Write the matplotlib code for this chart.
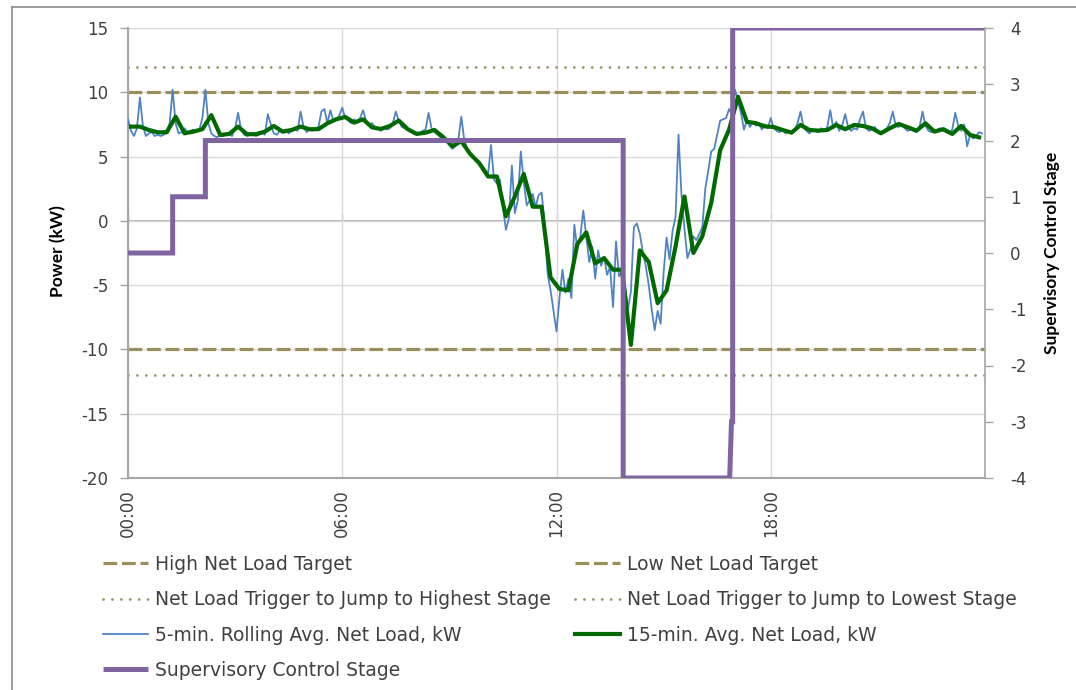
import numpy as np
import matplotlib
matplotlib.use("Agg")
import matplotlib.pyplot as plt
from matplotlib.lines import Line2D

# ---------------- data ----------------
# 5-min rolling average net load (kW), one value every 5 minutes from 00:00
blue_5min = [
    7.9, 7.0, 6.6, 7.2, 9.6, 7.4, 6.6, 6.8, 6.9, 6.6, 6.7, 6.6,
    6.7, 6.9, 7.6, 10.2, 7.6, 6.8, 6.9, 7.2, 6.9, 7.0, 7.1, 7.0,
    7.1, 8.0, 10.2, 7.6, 6.8, 6.6, 6.5, 6.7, 6.6, 6.8, 6.7, 6.6,
    7.2, 8.4, 7.1, 6.7, 6.6, 6.7, 6.8, 6.6, 6.7, 6.9, 6.7, 8.3,
    7.5, 6.8, 6.7, 7.0, 6.9, 7.1, 6.8, 7.0, 7.2, 7.0, 8.5, 7.3,
    6.9, 7.1, 7.0, 7.2, 7.3, 8.5, 8.7, 7.6, 8.6, 7.8, 7.9, 8.2,
    8.8, 8.0, 7.8, 7.6, 7.9, 7.7, 8.0, 8.6, 7.8, 7.5, 7.6, 7.3,
    7.2, 7.0, 7.3, 7.1, 7.2, 7.6, 8.5, 7.8, 7.3, 7.2, 7.1, 7.0,
    6.8, 6.7, 6.8, 7.0, 7.1, 8.4, 7.2, 6.9, 6.7, 6.5, 6.2, 6.3,
    5.9, 5.6, 5.8, 6.3, 8.1, 6.3, 5.6, 5.3, 5.0, 4.8, 4.6, 4.3,
    4.0, 3.6, 5.9, 3.2, 2.9, 3.2, 1.0, -0.7, 0.2, 4.3, 0.6, 1.6,
    5.4, 3.0, 1.2, 1.6, 2.1, 1.1, 2.0, 2.2, -0.2, -4.1, -5.4, -7.0,
    -8.6, -6.0, -3.8, -5.6, -4.5, -6.0, -0.3, -2.2, -1.2, 0.8, -1.2, -3.2,
    -2.0, -4.5, -2.3, -3.5, -2.8, -4.2, -3.6, -6.7, -1.6, -4.3, -4.0, -5.0,
    -6.9, -5.5, -0.5, -0.2, -1.0, -2.4, -3.5, -5.0, -6.9, -8.5, -7.0, -8.0,
    -4.0, -1.3, -3.0, -0.8, 0.3, 6.7, 2.0, -0.6, -2.9, -2.2, -1.2, -1.5,
    -1.0, -0.5, 2.5, 3.9, 5.4, 5.6, 6.7, 7.8, 7.9, 8.0, 8.7, 8.3,
    10.2, 9.3, 8.4, 7.1, 7.8, 7.3, 7.7, 7.4, 7.6, 7.1, 7.5, 7.2,
    8.0, 7.2, 7.0, 6.9, 7.1, 6.8, 7.0, 6.9, 7.0, 7.6, 8.5, 7.3,
    7.0, 6.8, 7.1, 7.0, 6.9, 7.2, 7.0, 7.3, 8.6, 7.2, 7.7, 7.0,
    7.4, 8.3, 7.3, 7.0, 7.2, 7.1, 7.9, 8.5, 7.2, 7.0, 7.1, 7.3,
    6.9, 6.8, 7.0, 7.2, 7.6, 8.5, 7.4, 7.3, 7.5, 7.2, 7.0, 7.1,
    7.0, 6.9, 7.3, 8.5, 7.4, 7.0, 6.9, 7.0, 7.1, 7.2, 7.0, 6.9,
    6.8, 7.1, 8.4, 7.4, 7.0, 7.5, 5.8, 6.7, 6.4, 6.6, 6.9, 6.8,
]
blue_minutes = list(range(0, 1440, 5))

# 15-min average net load (kW), one value per 15-minute interval
green_15min = [
    7.33, 7.33, 7.07, 6.89, 6.89, 8.10, 6.81, 6.94, 7.13, 8.22, 6.68, 6.76,
    7.33, 6.74, 6.74, 6.94, 7.38, 6.94, 7.07, 7.33, 7.13, 7.13, 7.59, 7.90,
    8.08, 7.64, 7.90, 7.27, 7.15, 7.38, 7.80, 7.13, 6.76, 6.86, 7.07, 6.50,
    5.80, 6.20, 5.20, 4.50, 3.45, 3.45, 0.35, 1.90, 3.65, 1.10, 1.10, -4.40,
    -5.30, -5.40, -1.80, -0.90, -3.30, -2.90, -3.80, -3.80, -9.65, -2.30, -3.20, -6.40,
    -5.40, -2.00, 1.90, -2.50, -1.20, 1.40, 5.50, 7.10, 9.66, 7.70, 7.60, 7.35,
    7.30, 7.07, 6.86, 7.46, 7.07, 7.02, 7.07, 7.46, 7.13, 7.46, 7.38, 7.20,
    6.81, 7.20, 7.54, 7.28, 7.02, 7.59, 6.94, 7.13, 6.76, 7.38, 6.68, 6.50,
]
green_minutes = list(range(5, 1440, 15))

# Supervisory control stage (right axis)
stage_minutes = [0, 75, 75, 130, 130, 832, 832, 1011, 1014, 1016, 1016, 1440]
stage_values = [0, 0, 1, 1, 2, 2, -4, -4, -3, -3, 4, 4]

high_target = 10
low_target = -10
high_trigger = 12
low_trigger = -12

xtick_minutes = [0, 360, 720, 1080]
xtick_labels = ["00:00", "06:00", "12:00", "18:00"]

labels = {
    "high": "High Net Load Target",
    "low": "Low Net Load Target",
    "trig_hi": "Net Load Trigger to Jump to Highest Stage",
    "trig_lo": "Net Load Trigger to Jump to Lowest Stage",
    "blue": "5-min. Rolling Avg. Net Load, kW",
    "green": "15-min. Avg. Net Load, kW",
    "stage": "Supervisory Control Stage",
}

# ---------------- style ----------------
W, H = 1076, 690
OLIVE = "#9A8F5B"
BLUE = "#5083C4"
GREEN = "#006A00"
PURPLE = "#8064A2"
GRID = "#D9D9D9"
AXC = "#A6A6A6"
TXT = "#404040"

plt.rcParams["font.family"] = ["DejaVu Sans"]
plt.rcParams["axes.unicode_minus"] = False

fig = plt.figure(figsize=(W / 100, H / 100), dpi=100)
fig.patch.set_facecolor("white")

L, R, T, B = 128, 985, 28, 478
ax = fig.add_axes([L / W, 1 - B / H, (R - L) / W, (B - T) / H])
ax2 = ax.twinx()

dash_style = (0, (4.3, 1.5))
dot_style = (0, (0.01, 3.2))

h_hi = ax.axhline(high_target, color=OLIVE, lw=2.3, linestyle=dash_style, zorder=2)
h_lo = ax.axhline(low_target, color=OLIVE, lw=2.3, linestyle=dash_style, zorder=2)
h_thi = ax.axhline(high_trigger, color=OLIVE, lw=2.0, linestyle=dot_style,
                   dash_capstyle="round", zorder=2)
h_tlo = ax.axhline(low_trigger, color=OLIVE, lw=2.0, linestyle=dot_style,
                   dash_capstyle="round", zorder=2)

h_blue, = ax.plot(blue_minutes, blue_5min, color=BLUE, lw=1.3, zorder=3)
h_green, = ax.plot(green_minutes, green_15min, color=GREEN, lw=3.0, zorder=4,
                   solid_joinstyle="round")
h_stage, = ax2.plot(stage_minutes, stage_values, color=PURPLE, lw=3.6,
                    solid_joinstyle="miter", solid_capstyle="butt")

ax.set_xlim(0, 1440)
ax.set_ylim(-20, 15)
ax.set_yticks(np.arange(-20, 16, 5))
ax2.set_ylim(-4, 4)
ax2.set_yticks(np.arange(-4, 5, 1))

ax.set_xticks(xtick_minutes)
ax.set_xticklabels(xtick_labels, rotation=90)
ax.grid(True, color=GRID, lw=1.0)
ax.set_axisbelow(True)

for s in ["top", "right"]:
    ax.spines[s].set_visible(False)
ax.spines["left"].set_color(AXC)
ax.spines["left"].set_linewidth(1.5)
ax.spines["bottom"].set_color(AXC)
ax.spines["bottom"].set_linewidth(1.5)
for s in ["top", "left", "bottom"]:
    ax2.spines[s].set_visible(False)
ax2.spines["right"].set_color(AXC)
ax2.spines["right"].set_linewidth(1.2)

ax.tick_params(axis="y", length=6, width=1, color=AXC, labelsize=12,
               labelcolor=TXT, pad=8)
ax.tick_params(axis="x", length=0, labelsize=12, labelcolor=TXT, pad=8)
ax2.tick_params(axis="y", length=6, width=1, color=AXC, labelsize=12,
                labelcolor=TXT, pad=12)

# horizontal category axis crossing at y = 0
sec = ax.secondary_xaxis(20 / 35)
sec.set_xticks(xtick_minutes)
sec.tick_params(axis="x", length=5, width=1, color=AXC, direction="out",
                labeltop=False, labelbottom=False)
for s in sec.spines.values():
    s.set_color(AXC)
    s.set_linewidth(1.2)

# axis titles
fig.text(58 / W, 1 - 251 / H, "Power (kW)", rotation=90, ha="center",
         va="center", fontsize=12.5, fontweight="bold", family=["Lato", "DejaVu Sans"],
         color="black")
fig.text(1052 / W, 1 - 253 / H, labels["stage"], rotation=90, ha="center",
         va="center", fontsize=12.5, fontweight="bold", family=["Lato", "DejaVu Sans"],
         color="black")

# legends (two columns)
common = dict(frameon=False, fontsize=13.5, handlelength=2.4, handletextpad=0.38,
              labelspacing=0.87, borderpad=0, borderaxespad=0,
              loc="upper left", bbox_transform=fig.transFigure)
leg1 = fig.legend([h_hi, h_thi, h_blue, h_stage],
                  [labels["high"], labels["trig_hi"], labels["blue"], labels["stage"]],
                  bbox_to_anchor=(103 / W, 1 - 555 / H), **common)
leg2 = fig.legend([h_lo, h_tlo, h_green],
                  [labels["low"], labels["trig_lo"], labels["green"]],
                  bbox_to_anchor=(575 / W, 1 - 555 / H), **common)
for lg in (leg1, leg2):
    for t in lg.get_texts():
        t.set_color(TXT)

# outer chart frame
fig.add_artist(Line2D([12 / W, 12 / W], [0, 1 - 7 / H], transform=fig.transFigure,
                      color="#8C8C8C", lw=1.2))
fig.add_artist(Line2D([12 / W, 1], [1 - 7 / H, 1 - 7 / H], transform=fig.transFigure,
                      color="#8C8C8C", lw=1.2))

fig.savefig("out.png", dpi=100, facecolor="white")
